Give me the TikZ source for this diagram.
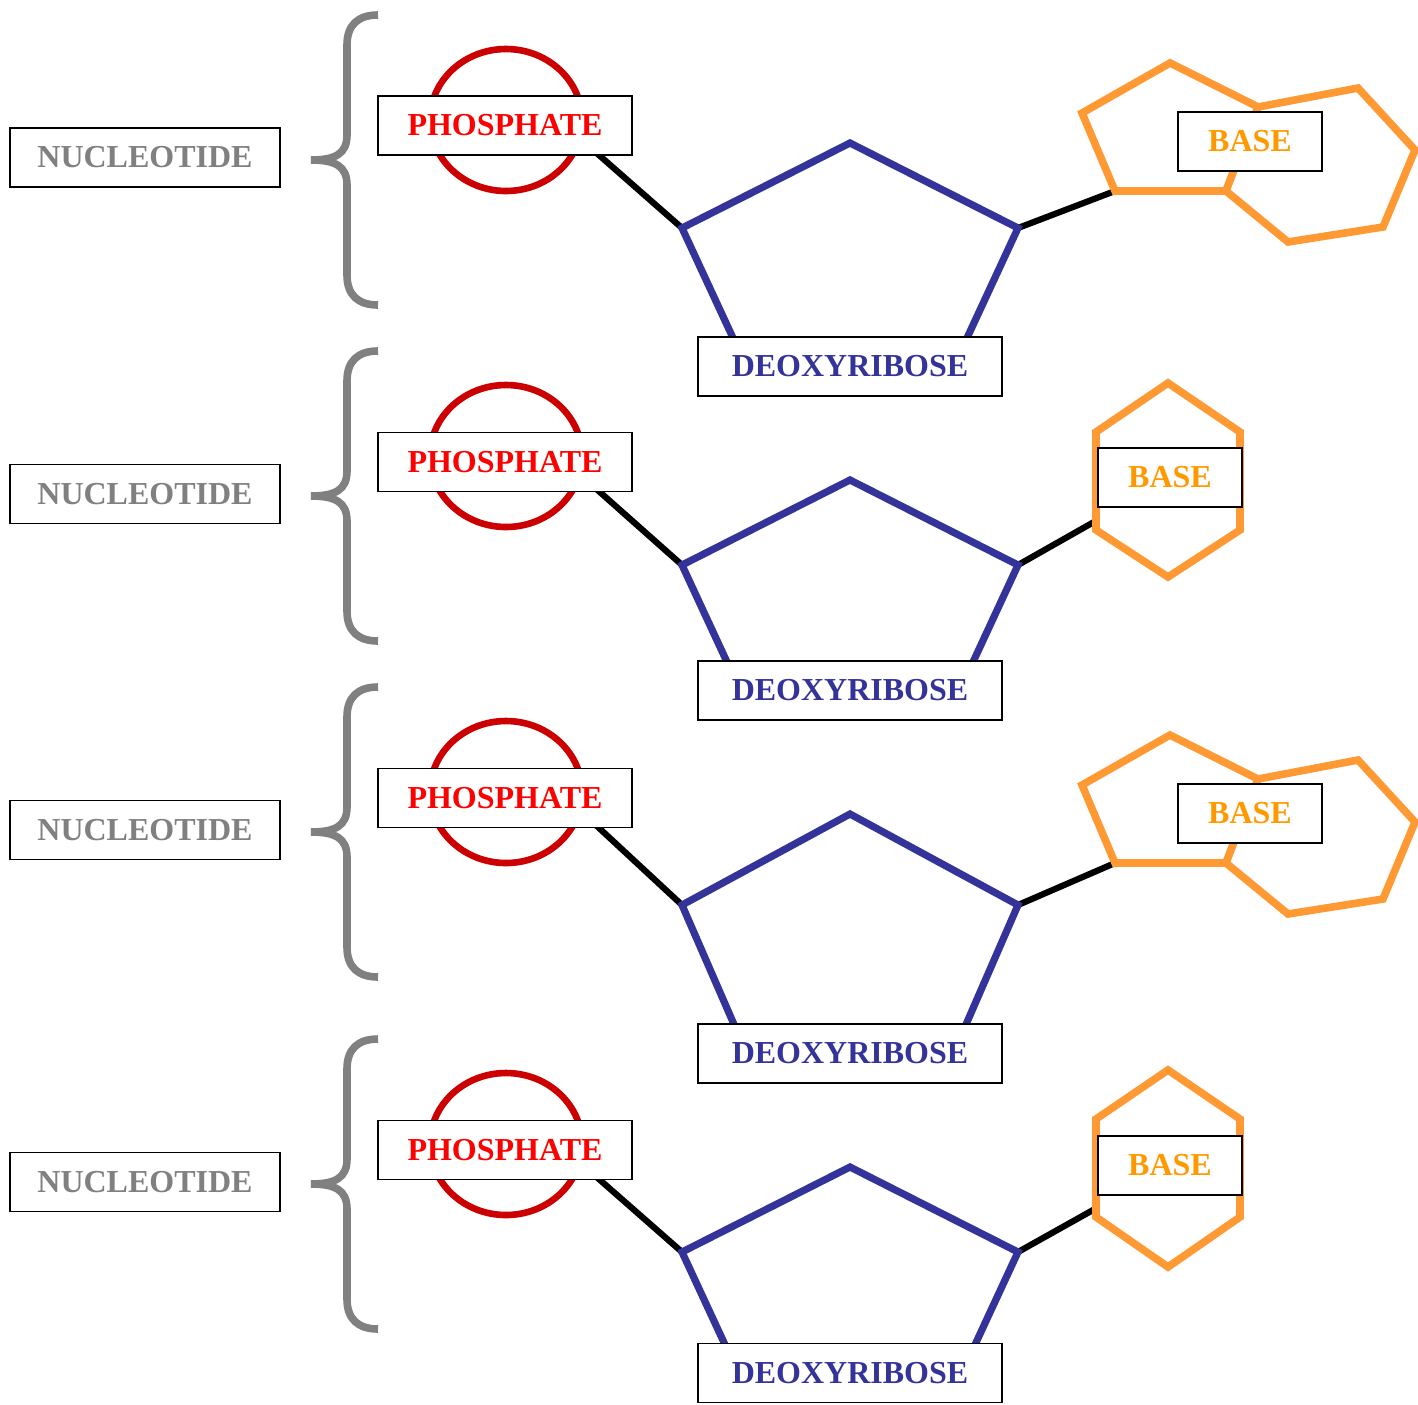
\documentclass[tikz,border=0pt]{standalone}
\usepackage{fontspec}
\setmainfont{Liberation Serif}
\usetikzlibrary{shapes.geometric}
\definecolor{sugar}{RGB}{51,51,153}
\definecolor{phosred}{RGB}{204,0,0}
\definecolor{phostext}{RGB}{255,0,0}
\definecolor{baseorange}{RGB}{255,153,51}
\definecolor{basetext}{RGB}{255,153,0}
\definecolor{nucgrey}{RGB}{128,128,128}
\begin{document}
\begin{tikzpicture}[x=0.5pt,y=-0.5pt,
 labelbox/.style={draw=black, line width=0.75pt, fill=white, font=\fontsize{16}{19}\selectfont\bfseries, minimum height=29.5pt, inner sep=0pt},
 nucbox/.style={labelbox, text=nucgrey, minimum width=135pt},
 phosbox/.style={labelbox, text=phostext, minimum width=127pt},
 sugarbox/.style={labelbox, text=sugar, minimum width=152pt},
 basebox/.style={labelbox, text=basetext, minimum width=72pt},
 phosring/.style={draw=phosred, line width=3.3pt, ellipse, minimum width=76pt, minimum height=71pt, inner sep=0pt},
 ring/.style={draw=sugar, line width=3.6pt, fill=white},
 basering/.style={draw=baseorange, line width=3.8pt, fill=white},
 bond/.style={draw=black, line width=3.1pt},
 bracestyle/.style={draw=nucgrey, line width=3.8pt},
 nbrace/.pic={\draw[bracestyle] (67,-145) .. controls (47,-145) and (36,-135) .. (36,-115) -- (36,-25) .. controls (36,-6) and (24,0) .. (0,0) .. controls (24,0) and (36,6) .. (36,25) -- (36,115) .. controls (36,135) and (47,145) .. (67,145);},
]
\useasboundingbox (0,0) rectangle (1418,1404);

% ---------- Row 1 ----------
\node[nucbox] (n1) at (145,157.5) {NUCLEOTIDE};
\pic at (311,160) {nbrace};
\node[phosring] (ph1) at (506,120) {};
\coordinate (s1t) at (850,143);
\coordinate (s1l) at (682,228);
\coordinate (s1r) at (1018,228);
\coordinate (s1bl) at (746,366);
\coordinate (s1br) at (954,366);
\coordinate (b1bl) at (1115,191);
\draw[bond] (ph1.-15) -- (s1l);
\draw[bond] (s1r) -- (b1bl);
\draw[ring] (s1t) -- (s1r) -- (s1br) -- (s1bl) -- (s1l) -- cycle;
\draw[basering] (1170,63) -- (1258,107) -- (1226,191) -- (b1bl) -- (1082,113) -- cycle;
\draw[basering] (1258,107) -- (1358,88) -- (1415,150) -- (1383,227) -- (1288,242) -- (1226,191) -- cycle;
\node[phosbox] (p1) at (505,125.5) {PHOSPHATE};
\node[sugarbox] (d1) at (850,366.5) {DEOXYRIBOSE};
\node[basebox] (a1) at (1250,141.5) {BASE};

% ---------- Row 2 ----------
\node[nucbox] (n2) at (145,494) {NUCLEOTIDE};
\pic at (311,496) {nbrace};
\node[phosring] (ph2) at (506,456) {};
\coordinate (s2t) at (850,480);
\coordinate (s2l) at (682,565);
\coordinate (s2r) at (1018,565);
\coordinate (s2bl) at (746,703);
\coordinate (s2br) at (954,703);
\coordinate (h2) at (1168,480);
\draw[bond] (ph2.-15) -- (s2l);
\draw[bond] (s2r) -- (h2);
\draw[ring] (s2t) -- (s2r) -- (s2br) -- (s2bl) -- (s2l) -- cycle;
\draw[basering] (1168,383) -- (1240,432) -- (1240,530) -- (1168,577) -- (1096,530) -- (1096,432) -- cycle;
\node[phosbox] (p2) at (505,462) {PHOSPHATE};
\node[sugarbox] (d2) at (850,690.5) {DEOXYRIBOSE};
\node[basebox] (a2) at (1170,477.5) {BASE};

% ---------- Row 3 ----------
\node[nucbox] (n3) at (145,830) {NUCLEOTIDE};
\pic at (311,832) {nbrace};
\node[phosring] (ph3) at (506,792) {};
\coordinate (s3t) at (850,814);
\coordinate (s3l) at (682,905);
\coordinate (s3r) at (1018,905);
\coordinate (s3bl) at (746,1052);
\coordinate (s3br) at (954,1052);
\coordinate (b3bl) at (1115,863);
\draw[bond] (ph3.-15) -- (s3l);
\draw[bond] (s3r) -- (b3bl);
\draw[ring] (s3t) -- (s3r) -- (s3br) -- (s3bl) -- (s3l) -- cycle;
\draw[basering] (1170,735) -- (1258,779) -- (1226,863) -- (b3bl) -- (1082,785) -- cycle;
\draw[basering] (1258,779) -- (1358,760) -- (1415,822) -- (1383,899) -- (1288,914) -- (1226,863) -- cycle;
\node[phosbox] (p3) at (505,798) {PHOSPHATE};
\node[sugarbox] (d3) at (850,1053.5) {DEOXYRIBOSE};
\node[basebox] (a3) at (1250,813.5) {BASE};

% ---------- Row 4 ----------
\node[nucbox] (n4) at (145,1182) {NUCLEOTIDE};
\pic at (311,1184) {nbrace};
\node[phosring] (ph4) at (506,1144) {};
\coordinate (s4t) at (850,1167);
\coordinate (s4l) at (682,1252);
\coordinate (s4r) at (1018,1252);
\coordinate (s4bl) at (746,1390);
\coordinate (s4br) at (954,1390);
\coordinate (h4) at (1168,1168);
\draw[bond] (ph4.-15) -- (s4l);
\draw[bond] (s4r) -- (h4);
\draw[ring] (s4t) -- (s4r) -- (s4br) -- (s4bl) -- (s4l) -- cycle;
\draw[basering] (1168,1070) -- (1240,1119) -- (1240,1217) -- (1168,1267) -- (1096,1217) -- (1096,1119) -- cycle;
\node[phosbox] (p4) at (505,1150) {PHOSPHATE};
\node[sugarbox] (d4) at (850,1373) {DEOXYRIBOSE};
\node[basebox] (a4) at (1170,1165.5) {BASE};
\end{tikzpicture}
\end{document}
